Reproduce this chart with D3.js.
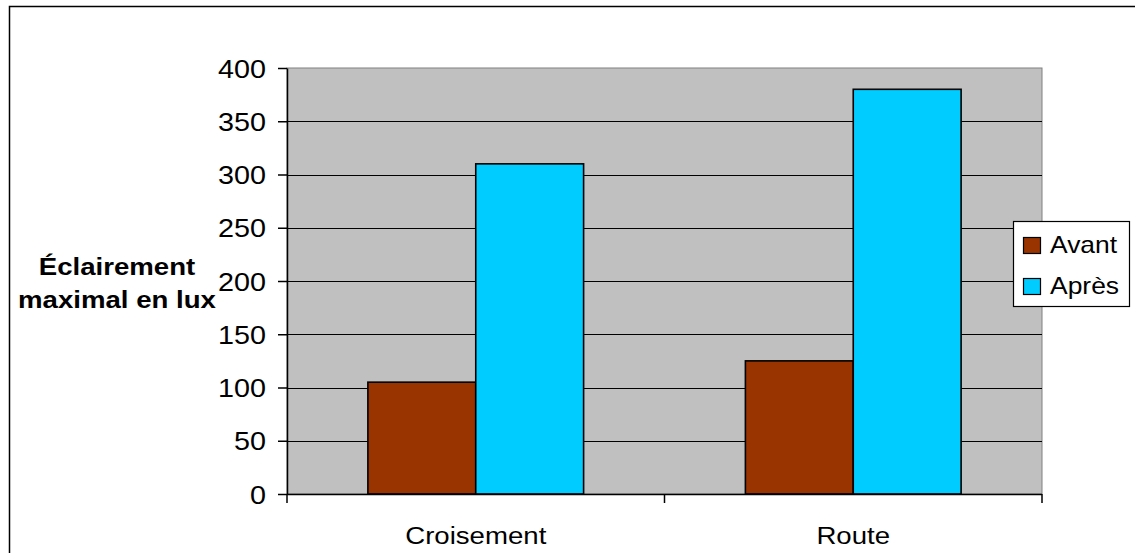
<!DOCTYPE html>
<html>
<head>
<meta charset="utf-8">
<script src="https://cdn.jsdelivr.net/npm/d3@7"></script>
<style>
  html, body { margin: 0; padding: 0; background: #fff; }
  svg { display: block; }
  text { font-family: "Liberation Sans", Arial, sans-serif; fill: #000; }
</style>
</head>
<body>
<svg id="chart" width="1135" height="553"></svg>
<script>
// Data
const categories = ["Croisement", "Route"];
const seriesNames = ["Avant", "Après"];
const avantValues = [105, 125];
const apresValues = [310, 380];
const yTicks = [0, 50, 100, 150, 200, 250, 300, 350, 400];
const yLabelLines = ["Éclairement", "maximal en lux"];

const colors = { "Avant": "#993300", "Après": "#00CCFF" };
const values = { "Avant": avantValues, "Après": apresValues };

const W = 1135, H = 553;
const plot = { left: 287, right: 1042, top: 68, bottom: 494 };
const sx = 1.15; // horizontal stretch applied to all text

const svg = d3.select("#chart");

// Outer chart frame
svg.append("rect")
  .attr("x", 9.5).attr("y", 6.5)
  .attr("width", W + 20).attr("height", H + 20)
  .attr("fill", "#fff").attr("stroke", "#000").attr("stroke-width", 1.5);

const x0 = d3.scaleBand().domain(categories).range([plot.left, plot.right]).padding(0);
const x1 = d3.scaleBand().domain(seriesNames).range([0, x0.bandwidth()])
  .paddingInner(0).paddingOuter(0.75);
const y = d3.scaleLinear().domain([0, 400]).range([plot.bottom, plot.top]);

// Plot area background
svg.append("rect")
  .attr("x", plot.left).attr("y", plot.top)
  .attr("width", plot.right - plot.left).attr("height", plot.bottom - plot.top)
  .attr("fill", "#C0C0C0").attr("stroke", "#808080").attr("stroke-width", 1);

// Gridlines
svg.append("g")
  .selectAll("line")
  .data(yTicks.filter(t => t > 0 && t < 400))
  .join("line")
  .attr("x1", plot.left).attr("x2", plot.right)
  .attr("y1", d => Math.round(y(d)) + 0.5).attr("y2", d => Math.round(y(d)) + 0.5)
  .attr("stroke", "#000").attr("stroke-width", 1);

// Bars
const groups = svg.append("g").selectAll("g")
  .data(categories)
  .join("g")
  .attr("transform", d => `translate(${x0(d)},0)`);

groups.selectAll("rect")
  .data((c, i) => seriesNames.map(s => ({ s, v: values[s][i] })))
  .join("rect")
  .attr("x", d => x1(d.s))
  .attr("y", d => y(d.v))
  .attr("width", x1.bandwidth())
  .attr("height", d => y(0) - y(d.v))
  .attr("fill", d => colors[d.s])
  .attr("stroke", "#000").attr("stroke-width", 1.6);

// Y axis
const yAxis = svg.append("g")
  .attr("transform", `translate(${plot.left},0)`)
  .call(d3.axisLeft(y).tickValues(yTicks).tickSize(9).tickPadding(12).tickSizeOuter(0));
yAxis.select(".domain").attr("stroke", "#000").attr("stroke-width", 1.5);
yAxis.selectAll(".tick line").attr("stroke", "#000").attr("stroke-width", 1.5);
yAxis.selectAll(".tick text")
  .attr("font-size", 25)
  .attr("font-family", "'Liberation Sans', Arial, sans-serif")
  .attr("fill", "#000")
  .attr("dy", "0.36em")
  .each(function () {
    const t = d3.select(this);
    const xx = +t.attr("x");
    t.attr("x", null).attr("transform", `translate(${xx},0) scale(${sx},1)`);
  });

// X axis
const xAxisG = svg.append("g").attr("transform", `translate(0,${plot.bottom})`);
xAxisG.append("line")
  .attr("x1", plot.left).attr("x2", plot.right)
  .attr("y1", 0.5).attr("y2", 0.5)
  .attr("stroke", "#000").attr("stroke-width", 1.5);
const boundaries = categories.map(c => x0(c)).concat([x0(categories[categories.length - 1]) + x0.bandwidth()]);
xAxisG.selectAll("line.tk")
  .data(boundaries)
  .join("line").attr("class", "tk")
  .attr("x1", d => d).attr("x2", d => d)
  .attr("y1", 0).attr("y2", 9)
  .attr("stroke", "#000").attr("stroke-width", 1.5);
xAxisG.selectAll("text")
  .data(categories)
  .join("text")
  .attr("transform", d => `translate(${x0(d) + x0.bandwidth() / 2},50) scale(${sx},1)`)
  .attr("text-anchor", "middle")
  .attr("font-size", 24)
  .text(d => d);

// Y axis title
svg.append("g")
  .selectAll("text")
  .data(yLabelLines)
  .join("text")
  .attr("transform", (d, i) => `translate(117,${275 + i * 33}) scale(${sx},1)`)
  .attr("text-anchor", "middle")
  .attr("font-size", 24)
  .attr("font-weight", "bold")
  .text(d => d);

// Legend
const legend = svg.append("g").attr("transform", "translate(1013,221)");
legend.append("rect")
  .attr("x", 0.5).attr("y", 0.5).attr("width", 116).attr("height", 85)
  .attr("fill", "#fff").attr("stroke", "#000").attr("stroke-width", 1.2);
const items = legend.selectAll("g.item")
  .data(seriesNames)
  .join("g").attr("class", "item")
  .attr("transform", (d, i) => `translate(0,${i * 41})`);
items.append("rect")
  .attr("x", 10.5).attr("y", 16.5).attr("width", 17).attr("height", 16)
  .attr("fill", d => colors[d]).attr("stroke", "#000").attr("stroke-width", 1.2);
items.append("text")
  .attr("transform", `translate(37,32) scale(${sx},1)`)
  .attr("font-size", 23)
  .text(d => d);
</script>
</body>
</html>
